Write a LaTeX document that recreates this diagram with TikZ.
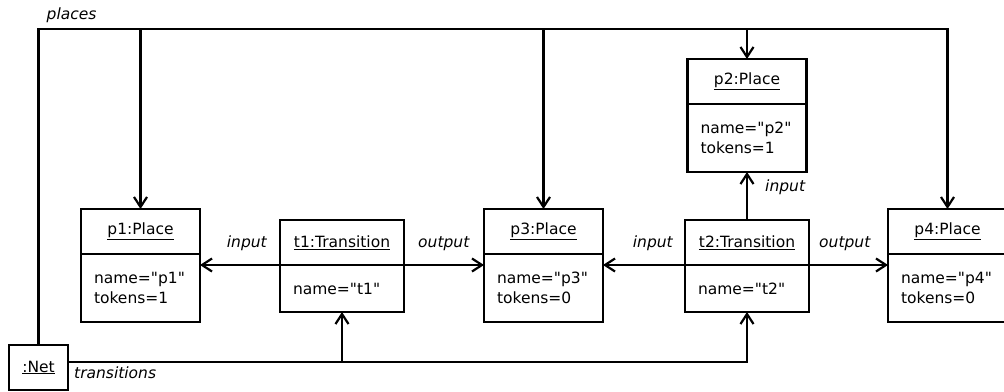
\documentclass[tikz,border=0pt]{standalone}
\usepackage{fontspec}
\setmainfont{DejaVu Sans}[Ligatures=TeXOff]
\usetikzlibrary{positioning}
\usetikzlibrary{arrows.meta}

\tikzset{
  objhead/.style={draw, line width=2.2pt, outer sep=0pt, minimum height=45pt, inner sep=2pt},
  placehead/.style={objhead, minimum width=119pt},
  transhead/.style={objhead, minimum width=124pt},
  placebody/.style={draw, line width=2.2pt, outer sep=0pt, align=left, inner xsep=13pt, inner ysep=2pt, text width=93pt, minimum height=68pt},
  transbody/.style={placebody, text width=98pt, minimum height=47pt},
  link/.style={line width=2.2pt, -{Straight Barb[length=10pt,width=13pt]}},
  role/.style={font=\fontsize{15.5}{19.5}\selectfont\itshape, inner sep=0pt},
}

\begin{document}
\begin{tikzpicture}[x=1pt,y=-1pt,font=\fontsize{15.5}{19.5}\selectfont]
        \useasboundingbox (0,0) rectangle (1004,391);
        % Nodes
        \node[placehead] (p1) at (140.5,231.5) {\underline{p1:Place}};
        \node[placebody, below=0pt of p1] (p1b) {name="p1"\\tokens=1};
        \node[transhead, right=80pt of p1, yshift=-11pt] (t1) {\underline{t1:Transition}};
        \node[transbody, below=0pt of t1] (t1b) {name="t1"};
        \node[placehead, right=80pt of t1, yshift=11pt] (p3) {\underline{p3:Place}};
        \node[placebody, below=0pt of p3] (p3b) {name="p3"\\tokens=0};
        \node[transhead, right=82pt of p3, yshift=-11pt] (t2) {\underline{t2:Transition}};
        \node[transbody, below=0pt of t2] (t2b) {name="t2"};
        \node[placehead, right=79pt of t2, yshift=11pt] (p4) {\underline{p4:Place}};
        \node[placebody, below=0pt of p4] (p4b) {name="p4"\\tokens=0};
        \node[placehead, above=116pt of t2] (p2) {\underline{p2:Place}};
        \node[placebody, below=0pt of p2] (p2b) {name="p2"\\tokens=1};
        \node[draw, line width=2.2pt, outer sep=0pt, minimum width=59pt, minimum height=45pt] (net) at (38.5,367.5) {\underline{:Net}};

        \coordinate (bus) at (0,29);
        \coordinate (tbus) at (0,362);
        \coordinate (corner) at (net.north |- bus);
        \coordinate (tstart) at (tbus -| net.east);

        % Edges
        \draw[link] (net.north) |- (bus -| p4.north) -- (p4.north);
        \draw[link] (bus -| p1.north) -- (p1.north);
        \draw[link] (bus -| p3.north) -- (p3.north);
        \draw[link] (bus -| p2.north) -- (p2.north);
        \draw[link] (tstart) -| (t2b.south);
        \draw[link] (tstart -| t1b.south) -- (t1b.south);
        \draw[link] (t1.south west) -- (t1.south west -| p1b.east);
        \draw[link] (t1.south east) -- (t1.south east -| p3b.west);
        \draw[link] (t2.south west) -- (t2.south west -| p3b.east);
        \draw[link] (t2.south east) -- (t2.south east -| p4b.west);
        \draw[link] (t2.north) -- (p2b.south);

        % Roles
        \node[role, above right=6pt and 8pt of corner] (places) {places};
        \node[role, below right=5pt and 6pt of tstart] (trans) {transitions};
        \node[role, above left=14pt and 13pt of t1.south west] (in1) {input};
        \node[role, above right=14pt and 14pt of t1.south east] (out1) {output};
        \node[role, above left=14pt and 12pt of t2.south west] (in2) {input};
        \node[role, above right=14pt and 10pt of t2.south east] (out2) {output};
        \node[role, above right=25pt and 18pt of t2.north] (in3) {input};
\end{tikzpicture}
\end{document}
